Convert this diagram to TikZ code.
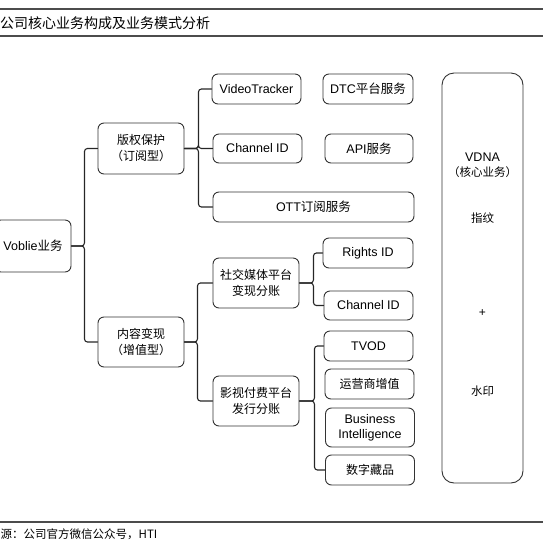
\documentclass[tikz,border=0pt]{standalone}
\usepackage{fontspec}
\setmainfont{Liberation Sans}
\newfontfamily\cjk{Noto Sans CJK SC}
\begin{document}
\begin{tikzpicture}[x=1pt,y=-1pt,line join=round,line cap=round,
	box/.style={draw=black!80, line width=0.9pt, rounded corners=6pt, align=center, inner sep=0pt, font=\fontsize{12.5}{16}\selectfont},
	cbox/.style={box, font=\cjk\fontsize{12}{16}\selectfont},
	link/.style={draw=black!85, line width=1.1pt, rounded corners=3pt}]
	\useasboundingbox (0,0) rectangle (543,550);
	% title and source
	\draw[black!70, line width=1.2pt] (0,9)--(543,9);
	\draw[black!70, line width=1.2pt] (0,36)--(543,36);
	\node[anchor=west, inner sep=0pt, font=\cjk\fontsize{14}{16}\selectfont] (title) at (0,23) {公司核心业务构成及业务模式分析};
	\draw[black!70, line width=1.2pt] (0,522)--(543,522);
	\node[anchor=west, inner sep=0pt, font=\cjk\fontsize{11.5}{14}\selectfont] (src) at (0.5,534) {源：公司官方微信公众号，HTI};
	% root and first level
	\node[box, minimum width=76pt, minimum height=52pt] (voblie) at (33,246) {Voblie{\cjk 业务}};
	\node[cbox, minimum width=86pt, minimum height=51pt] (bq) at (141,148.5) {版权保护\\（订阅型）};
	\node[cbox, minimum width=86pt, minimum height=50pt] (nr) at (141,342) {内容变现\\（增值型）};
	% copyright protection
	\node[box, minimum width=89pt, minimum height=30pt] (vt) at (256.5,89) {VideoTracker};
	\node[box, minimum width=90pt, minimum height=30pt] (dtc) at (368,89) {DTC{\cjk 平台服务}};
	\node[box, minimum width=89pt, minimum height=29pt] (chA) at (257.5,148.5) {Channel ID};
	\node[box, minimum width=88pt, minimum height=29pt] (api) at (369,148.5) {API{\cjk 服务}};
	\node[box, minimum width=201pt, minimum height=30pt] (ott) at (313.5,207) {OTT{\cjk 订阅服务}};
	% content monetisation
	\node[cbox, minimum width=86pt, minimum height=50pt] (sj) at (256,283) {社交媒体平台\\变现分账};
	\node[cbox, minimum width=86pt, minimum height=50pt] (ys) at (256,401) {影视付费平台\\发行分账};
	\node[box, minimum width=90pt, minimum height=30pt] (rid) at (368,253) {Rights ID};
	\node[box, minimum width=89pt, minimum height=29pt] (chB) at (368.5,305.5) {Channel ID};
	\node[box, minimum width=89pt, minimum height=30pt] (tvod) at (368.5,346) {TVOD};
	\node[cbox, minimum width=89pt, minimum height=30pt] (yy) at (369.5,384) {运营商增值};
	\node[box, minimum width=89pt, minimum height=39pt, font=\fontsize{12.5}{15}\selectfont] (bi) at (370,427.5) {Business\\Intelligence};
	\node[cbox, minimum width=89pt, minimum height=30pt] (sz) at (370,470) {数字藏品};
	% VDNA
	\node[box, rounded corners=12pt, minimum width=81pt, minimum height=410pt] (vdna) at (482.5,278) {};
	\node[font=\fontsize{12.5}{15}\selectfont, inner sep=0pt] (vname) at (482.5,157) {VDNA};
	\node[font=\cjk\fontsize{11.5}{14}\selectfont, inner sep=0pt] (vcore) at (482.5,172) {（核心业务）};
	\node[font=\cjk\fontsize{11.5}{14}\selectfont, inner sep=0pt] (vfp) at (482.5,218) {指纹};
	\node[font=\fontsize{12}{14}\selectfont, inner sep=0pt] (vplus) at (482.5,313) {+};
	\node[font=\cjk\fontsize{11.5}{14}\selectfont, inner sep=0pt] (vwm) at (482.5,391) {水印};
	% links
	\foreach \c in {bq,nr} \draw[link] (voblie.east) -- ++(13,0) |- (\c.west);
	\foreach \c in {vt,chA,ott} \draw[link] (bq.east) -- ++(14,0) |- (\c.west);
	\foreach \c in {sj,ys} \draw[link] (nr.east) -- ++(13,0) |- (\c.west);
	\foreach \c in {rid,chB} \draw[link] (sj.east) -- ++(14,0) |- (\c.west);
	\foreach \c in {tvod,sz} \draw[link] (ys.east) -- ++(15,0) |- (\c.west);
\end{tikzpicture}
\end{document}
